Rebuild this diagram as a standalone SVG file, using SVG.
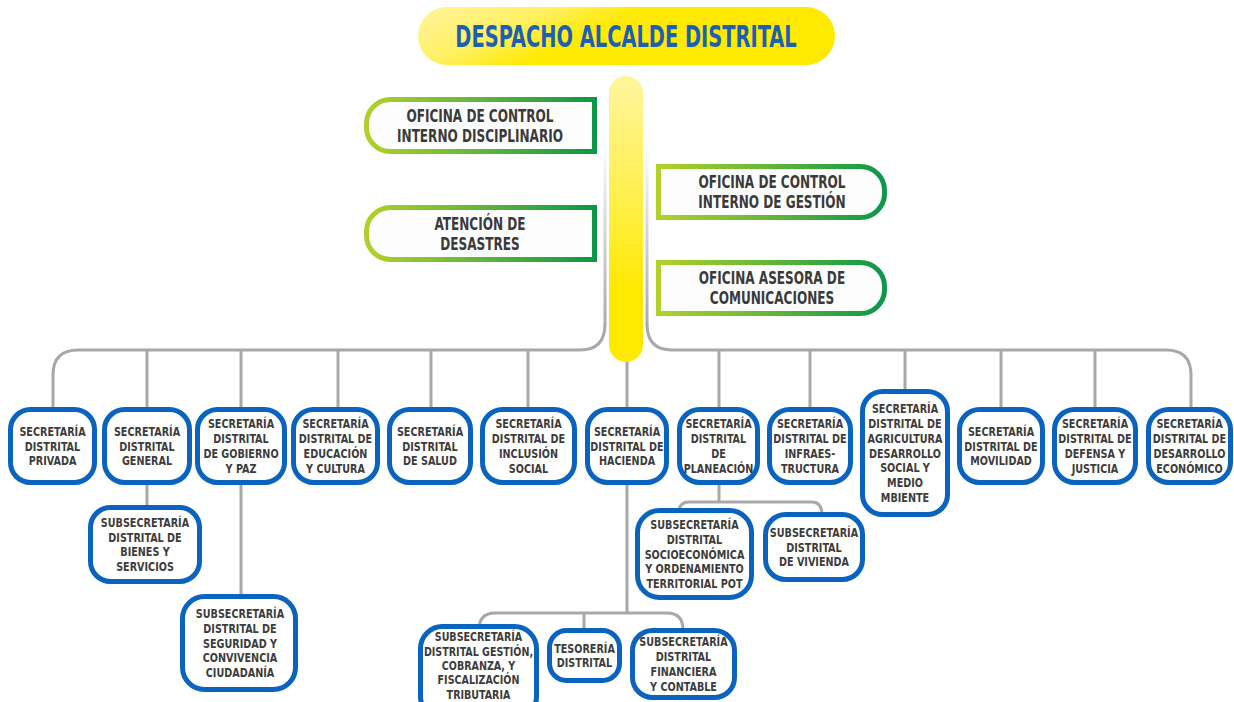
<svg xmlns="http://www.w3.org/2000/svg" width="1234" height="702" viewBox="0 0 1234 702">
<defs>
<linearGradient id="gTitle" x1="0" y1="0" x2="1" y2="0.3">
<stop offset="0" stop-color="#FFF4A0"/><stop offset="0.3" stop-color="#FFF060"/><stop offset="0.5" stop-color="#FFEA05"/><stop offset="1" stop-color="#FFE900"/>
</linearGradient>
<linearGradient id="gBar" x1="0" y1="0" x2="0" y2="1">
<stop offset="0" stop-color="#FFF59E"/><stop offset="0.45" stop-color="#FFEF48"/><stop offset="0.75" stop-color="#FFE900"/><stop offset="1" stop-color="#FFE900"/>
</linearGradient>
<linearGradient id="gGreen" x1="0" y1="0" x2="1" y2="0">
<stop offset="0" stop-color="#B2D02A"/><stop offset="0.5" stop-color="#62B53A"/><stop offset="1" stop-color="#0C9747"/>
</linearGradient>
<linearGradient id="gHalo" gradientUnits="userSpaceOnUse" x1="0" y1="140" x2="0" y2="330">
<stop offset="0" stop-color="#A8A8A8" stop-opacity="0"/><stop offset="1" stop-color="#A8A8A8" stop-opacity="1"/>
</linearGradient>
</defs>
<style>
.bx{fill:#FFFFFF;stroke:#0A64BF;stroke-width:5}
.gb{fill:#FDFDFD;stroke:url(#gGreen);stroke-width:5}
.ln{fill:none;stroke:#A8A8A8;stroke-width:3}
.t{font-family:"DejaVu Sans Condensed","DejaVu Sans",sans-serif;font-weight:bold;font-size:12.6px;fill:#3C3C3C;text-anchor:middle}
.ts{font-size:12.2px}
.tg{font-family:"DejaVu Sans Condensed","DejaVu Sans",sans-serif;font-weight:bold;font-size:17px;fill:#3A3A3A;text-anchor:middle}
.tt{font-family:"DejaVu Sans Condensed","DejaVu Sans",sans-serif;font-weight:bold;font-size:30px;fill:#1D5FB0;text-anchor:middle}
</style>
<rect width="1234" height="702" fill="#FFFFFF"/>

<g id="connectors">
<path class="ln" d="M605,140 V325" style="stroke:url(#gHalo)"/>
<path class="ln" d="M647,140 V325" style="stroke:url(#gHalo)"/>
<path class="ln" d="M605,324 Q605,350 580,350 H78 Q53,350 53,375 V410"/>
<path class="ln" d="M647,324 Q647,350 672,350 H1166 Q1191,350 1191,375 V410"/>
<path class="ln" d="M147,350 V410 M241,350 V410 M338,350 V410 M431,350 V410 M528,350 V410 M719,350 V410 M810,350 V410 M905,350 V392 M1001,350 V410 M1095,350 V410"/>
<path class="ln" d="M627,360 V410"/>
<path class="ln" d="M147,482 V508 M241,482 V597"/>
<path class="ln" d="M627,482 V613 M479,630 Q479,613 495,613 H667 Q683,613 683,630 M584,613 V631"/>
<path class="ln" d="M719,482 V502 M679,512 Q679,502 689,502 H812 Q822,502 822,515"/>
</g>

<g id="n-bar"><rect x="609" y="76" width="34" height="286" rx="17" fill="url(#gBar)"/></g>

<g id="n-despacho">
<rect x="418" y="7" width="417" height="58" rx="29" fill="url(#gTitle)"/>
<text class="tt" transform="translate(626,47) scale(0.72,1)" x="0" y="0">DESPACHO ALCALDE DISTRITAL</text>
</g>

<g id="n-disciplinario">
<path class="gb" d="M594.5,99.5 H390.5 A24,24 0 0 0 366.5,123.5 V127.5 A24,24 0 0 0 390.5,151.5 H594.5 Z"/>
<text class="tg" transform="translate(480,0) scale(0.79,1)"><tspan x="0" y="121.7">OFICINA DE CONTROL</tspan><tspan x="0" y="141.7">INTERNO DISCIPLINARIO</tspan></text>
</g>
<g id="n-desastres">
<path class="gb" d="M594.5,207.5 H390.5 A24,24 0 0 0 366.5,231.5 V235.5 A24,24 0 0 0 390.5,259.5 H594.5 Z"/>
<text class="tg" transform="translate(480,0) scale(0.79,1)"><tspan x="0" y="229.7">ATENCIÓN DE</tspan><tspan x="0" y="249.7">DESASTRES</tspan></text>
</g>
<g id="n-gestion">
<path class="gb" d="M658.5,166.5 H860.5 A24,24 0 0 1 884.5,190.5 V193.5 A24,24 0 0 1 860.5,217.5 H658.5 Z"/>
<text class="tg" transform="translate(772,0) scale(0.79,1)"><tspan x="0" y="188.2">OFICINA DE CONTROL</tspan><tspan x="0" y="208.2">INTERNO DE GESTIÓN</tspan></text>
</g>
<g id="n-comunicaciones">
<path class="gb" d="M658.5,262.5 H860.5 A24,24 0 0 1 884.5,286.5 V289.5 A24,24 0 0 1 860.5,313.5 H658.5 Z"/>
<text class="tg" transform="translate(772,0) scale(0.79,1)"><tspan x="0" y="284.2">OFICINA ASESORA DE</tspan><tspan x="0" y="304.2">COMUNICACIONES</tspan></text>
</g>

<g id="n-privada"><rect class="bx" x="10.5" y="409.5" width="84" height="73" rx="20"/>
<text class="t" transform="translate(52.5,0) scale(0.85,1)"><tspan x="0" y="435.8">SECRETARÍA</tspan><tspan x="0" y="450.6">DISTRITAL</tspan><tspan x="0" y="465.4">PRIVADA</tspan></text></g>
<g id="n-general"><rect class="bx" x="104.5" y="409.5" width="85" height="73" rx="20"/>
<text class="t" transform="translate(147,0) scale(0.85,1)"><tspan x="0" y="435.8">SECRETARÍA</tspan><tspan x="0" y="450.6">DISTRITAL</tspan><tspan x="0" y="465.4">GENERAL</tspan></text></g>
<g id="n-gobierno"><rect class="bx" x="197.5" y="409.5" width="87" height="73" rx="20"/>
<text class="t" transform="translate(241,0) scale(0.85,1)"><tspan x="0" y="428.4">SECRETARÍA</tspan><tspan x="0" y="443.2">DISTRITAL</tspan><tspan x="0" y="458">DE GOBIERNO</tspan><tspan x="0" y="472.8">Y PAZ</tspan></text></g>
<g id="n-educacion"><rect class="bx" x="293.5" y="409.5" width="84" height="73" rx="20"/>
<text class="t" transform="translate(335.5,0) scale(0.85,1)"><tspan x="0" y="428.4">SECRETARÍA</tspan><tspan x="0" y="443.2">DISTRITAL DE</tspan><tspan x="0" y="458">EDUCACIÓN</tspan><tspan x="0" y="472.8">Y CULTURA</tspan></text></g>
<g id="n-salud"><rect class="bx" x="389.5" y="409.5" width="81" height="73" rx="20"/>
<text class="t" transform="translate(430,0) scale(0.85,1)"><tspan x="0" y="435.8">SECRETARÍA</tspan><tspan x="0" y="450.6">DISTRITAL</tspan><tspan x="0" y="465.4">DE SALUD</tspan></text></g>
<g id="n-inclusion"><rect class="bx" x="482.5" y="409.5" width="92" height="73" rx="20"/>
<text class="t" transform="translate(528.5,0) scale(0.85,1)"><tspan x="0" y="428.4">SECRETARÍA</tspan><tspan x="0" y="443.2">DISTRITAL DE</tspan><tspan x="0" y="458">INCLUSIÓN</tspan><tspan x="0" y="472.8">SOCIAL</tspan></text></g>
<g id="n-hacienda"><rect class="bx" x="587.5" y="409.5" width="79" height="73" rx="20"/>
<text class="t" transform="translate(627,0) scale(0.85,1)"><tspan x="0" y="435.8">SECRETARÍA</tspan><tspan x="0" y="450.6">DISTRITAL DE</tspan><tspan x="0" y="465.4">HACIENDA</tspan></text></g>
<g id="n-planeacion"><rect class="bx" x="679.5" y="409.5" width="78" height="73" rx="20"/>
<text class="t" transform="translate(718.5,0) scale(0.85,1)"><tspan x="0" y="428.4">SECRETARÍA</tspan><tspan x="0" y="443.2">DISTRITAL</tspan><tspan x="0" y="458">DE</tspan><tspan x="0" y="472.8">PLANEACIÓN</tspan></text></g>
<g id="n-infra"><rect class="bx" x="769.5" y="409.5" width="81" height="73" rx="20"/>
<text class="t" transform="translate(810,0) scale(0.85,1)"><tspan x="0" y="428.4">SECRETARÍA</tspan><tspan x="0" y="443.2">DISTRITAL DE</tspan><tspan x="0" y="458">INFRAES-</tspan><tspan x="0" y="472.8">TRUCTURA</tspan></text></g>
<g id="n-agricultura"><rect class="bx" x="862.5" y="391.5" width="85" height="123" rx="20"/>
<text class="t" transform="translate(905,0) scale(0.85,1)"><tspan x="0" y="413.2">SECRETARÍA</tspan><tspan x="0" y="428">DISTRITAL DE</tspan><tspan x="0" y="442.8">AGRICULTURA</tspan><tspan x="0" y="457.6">DESARROLLO</tspan><tspan x="0" y="472.4">SOCIAL Y</tspan><tspan x="0" y="487.2">MEDIO</tspan><tspan x="0" y="502">MBIENTE</tspan></text></g>
<g id="n-movilidad"><rect class="bx" x="959.5" y="409.5" width="83" height="73" rx="20"/>
<text class="t" transform="translate(1001,0) scale(0.85,1)"><tspan x="0" y="435.8">SECRETARÍA</tspan><tspan x="0" y="450.6">DISTRITAL DE</tspan><tspan x="0" y="465.4">MOVILIDAD</tspan></text></g>
<g id="n-defensa"><rect class="bx" x="1054.5" y="409.5" width="81" height="73" rx="20"/>
<text class="t" transform="translate(1095,0) scale(0.85,1)"><tspan x="0" y="428.4">SECRETARÍA</tspan><tspan x="0" y="443.2">DISTRITAL DE</tspan><tspan x="0" y="458">DEFENSA Y</tspan><tspan x="0" y="472.8">JUSTICIA</tspan></text></g>
<g id="n-economico"><rect class="bx" x="1148.5" y="409.5" width="82" height="73" rx="20"/>
<text class="t" transform="translate(1189.5,0) scale(0.85,1)"><tspan x="0" y="428.4">SECRETARÍA</tspan><tspan x="0" y="443.2">DISTRITAL DE</tspan><tspan x="0" y="458">DESARROLLO</tspan><tspan x="0" y="472.8">ECONÓMICO</tspan></text></g>

<g id="n-bienes"><rect class="bx" x="90.5" y="507.5" width="109" height="74" rx="20"/>
<text class="t" transform="translate(145,0) scale(0.85,1)"><tspan x="0" y="526.9">SUBSECRETARÍA</tspan><tspan x="0" y="541.7">DISTRITAL DE</tspan><tspan x="0" y="556.5">BIENES Y</tspan><tspan x="0" y="571.3">SERVICIOS</tspan></text></g>
<g id="n-seguridad"><rect class="bx" x="182.5" y="596.5" width="113" height="93" rx="22"/>
<text class="t" transform="translate(240,0) scale(0.85,1)"><tspan x="0" y="618">SUBSECRETARÍA</tspan><tspan x="0" y="632.8">DISTRITAL DE</tspan><tspan x="0" y="647.6">SEGURIDAD Y</tspan><tspan x="0" y="662.4">CONVIVENCIA</tspan><tspan x="0" y="677.2">CIUDADANÍA</tspan></text></g>
<g id="n-socio"><rect class="bx" x="637.5" y="510.5" width="114" height="87" rx="22"/>
<text class="t" transform="translate(694.5,0) scale(0.85,1)"><tspan x="0" y="529">SUBSECRETARÍA</tspan><tspan x="0" y="543.8">DISTRITAL</tspan><tspan x="0" y="558.6">SOCIOECONÓMICA</tspan><tspan x="0" y="573.4">Y ORDENAMIENTO</tspan><tspan x="0" y="588.2">TERRITORIAL POT</tspan></text></g>
<g id="n-vivienda"><rect class="bx" x="765.5" y="514.5" width="97" height="65" rx="20"/>
<text class="t" transform="translate(814,0) scale(0.85,1)"><tspan x="0" y="536.8">SUBSECRETARÍA</tspan><tspan x="0" y="551.6">DISTRITAL</tspan><tspan x="0" y="566.4">DE VIVIENDA</tspan></text></g>
<g id="n-fiscalizacion"><rect class="bx" x="420.5" y="626.5" width="116" height="92" rx="22"/>
<text class="t ts" transform="translate(478.5,0) scale(0.87,1)"><tspan x="0" y="641.5">SUBSECRETARÍA</tspan><tspan x="0" y="655.8">DISTRITAL GESTIÓN,</tspan><tspan x="0" y="670.1">COBRANZA, Y</tspan><tspan x="0" y="684.4">FISCALIZACIÓN</tspan><tspan x="0" y="698.7">TRIBUTARIA</tspan></text></g>
<g id="n-tesoreria"><rect class="bx" x="549.5" y="630.5" width="70" height="50" rx="17"/>
<text class="t" transform="translate(584.5,0) scale(0.85,1)"><tspan x="0" y="652.7">TESORERÍA</tspan><tspan x="0" y="667.5">DISTRITAL</tspan></text></g>
<g id="n-financiera"><rect class="bx" x="632.5" y="630.5" width="102" height="67" rx="20"/>
<text class="t" transform="translate(683.5,0) scale(0.85,1)"><tspan x="0" y="646.4">SUBSECRETARÍA</tspan><tspan x="0" y="661.2">DISTRITAL</tspan><tspan x="0" y="676">FINANCIERA</tspan><tspan x="0" y="690.8">Y CONTABLE</tspan></text></g>
</svg>
